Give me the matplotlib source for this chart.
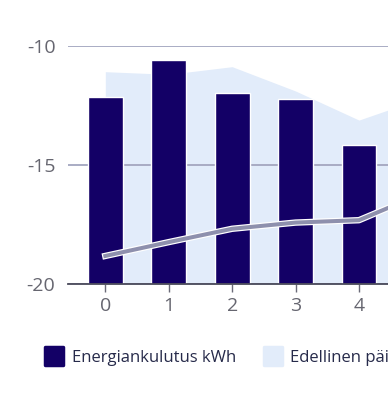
import matplotlib.pyplot as plt
import matplotlib.patheffects as pe
from matplotlib.lines import Line2D
from matplotlib.markers import MarkerStyle

plt.rcParams['font.family'] = ['Open Sans', 'DejaVu Sans']
plt.rcParams['axes.unicode_minus'] = False

hours = [0, 1, 2, 3, 4, 5]
consumption = [-12.16, -10.59, -11.97, -12.24, -14.17, -13.0]
previous = [-11.09, -11.2, -10.88, -11.9, -13.12, -12.2]
trend = [-18.82, -18.24, -17.68, -17.42, -17.32, -16.2]

bar_color = '#130066'
area_color = '#e2ecfa'
line_color = '#8e90ad'
grid_color = '#a3a6bf'

fig = plt.figure(figsize=(3.88, 3.94), dpi=100)
ax = fig.add_axes([0.175, 0.279, 1.01, 0.605])

base = -20
ax.fill_between(hours, previous, base, color=area_color, lw=0, zorder=1)
ax.bar(hours, [v - base for v in consumption], bottom=base, width=0.55,
       color=bar_color, edgecolor='white', linewidth=1, zorder=3)
ax.plot(hours, trend, color=line_color, lw=2.9, zorder=4,
        path_effects=[pe.Stroke(linewidth=4.6, foreground='white'), pe.Normal()])

ax.set_ylim(-20, -10)
ax.set_xlim(-0.59, 5.59)
ax.set_yticks([-20, -15, -10])
ax.set_xticks(hours[:5])
ax.grid(axis='y', color=grid_color, lw=1.3)
ax.set_axisbelow(False)
for gl in ax.get_ygridlines():
    gl.set_zorder(2)

for s in ['top', 'right', 'left']:
    ax.spines[s].set_visible(False)
ax.spines['bottom'].set_color('#4a4a5a')
ax.spines['bottom'].set_linewidth(1.3)
ax.spines['bottom'].set_zorder(5)
ax.tick_params(axis='y', length=0, pad=9, labelsize=14, labelcolor='#666670')
ax.tick_params(axis='x', length=6, width=1, color='#6a6a78', pad=3,
               labelsize=14, labelcolor='#666670')

sq = MarkerStyle('s', joinstyle='round')
handles = [
    Line2D([], [], marker=sq, ls='', markersize=13, mew=2.5,
           color=bar_color, mec=bar_color),
    Line2D([], [], marker=sq, ls='', markersize=13, mew=2.5,
           color=area_color, mec=area_color),
]
fig.legend(handles, ['Energiankulutus kWh', 'Edellinen päivä'], loc='center left',
           bbox_to_anchor=(0.075, 0.091), ncol=2, frameon=False, fontsize=12,
           labelcolor='#262a4a', handletextpad=0.45, columnspacing=1.6,
           handlelength=1.2)

fig.savefig('out.png', dpi=100)
